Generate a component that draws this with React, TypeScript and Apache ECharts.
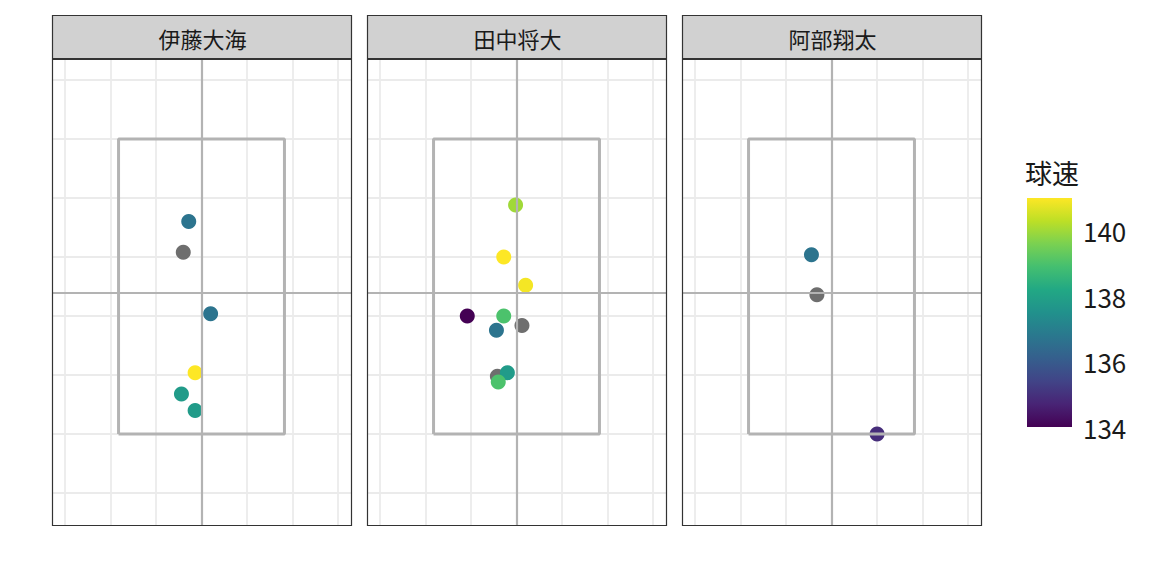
import React, { useEffect, useRef } from 'react';
import * as echarts from 'echarts';

const pitchers = ['伊藤大海', '田中将大', '阿部翔太'];

// plate location (horizontal, vertical) and pitch speed (null = missing)
const itoX = [-0.14, -0.20, 0.10, -0.07, -0.22, -0.07];
const itoZ = [3.30, 3.04, 2.52, 2.02, 1.84, 1.70];
const itoSpeed = [136.7, null, 136.7, 141.0, 137.8, 137.8];

const tanakaX = [-0.21, 0.06, -0.01, -0.14, 0.10, -0.54, -0.14, -0.22, -0.10, -0.20];
const tanakaZ = [1.99, 2.42, 3.44, 3.00, 2.76, 2.50, 2.50, 2.38, 2.02, 1.94];
const tanakaSpeed = [null, null, 140.0, 141.0, 140.9, 134.0, 139.0, 136.7, 137.8, 139.0];

const abeX = [-0.22, -0.16, 0.50];
const abeZ = [3.02, 2.68, 1.50];
const abeSpeed = [136.7, null, 134.9];

const panelX = [itoX, tanakaX, abeX];
const panelZ = [itoZ, tanakaZ, abeZ];
const panelSpeed = [itoSpeed, tanakaSpeed, abeSpeed];

// strike zone and center lines
const zoneLeft = -0.91;
const zoneRight = 0.91;
const zoneBottom = 1.5;
const zoneTop = 4.0;
const centerX = 0;
const centerZ = 2.70;

// grid breaks
const xBreaks = [-1.5, -1.0, -0.5, 0, 0.5, 1.0, 1.5];
const zBreaks = [1.0, 1.5, 2.0, 2.5, 3.0, 3.5, 4.0, 4.5];
const xLimits = [-1.64, 1.64];
const zLimits = [0.729, 4.678];

// color scale
const speedMin = 134;
const speedMax = 141;
const speedTicks = [134, 136, 138, 140];
const viridis = ['#440154', '#482475', '#414487', '#355f8d', '#2a788e', '#21918c', '#22a884', '#44bf70', '#7ad151', '#bddf26', '#fde725'];

const FONT = 'Noto Sans CJK JP';
const panelLefts = [52, 367, 682];
const panelW = 299;
const stripTop = 15;
const stripH = 43;
const panelTop = 59;
const panelH = 466;

export default function App() {
  const ref = useRef<HTMLDivElement>(null);
  useEffect(() => {
    if (!ref.current) return;
    const chart = echarts.init(ref.current, undefined, { renderer: 'svg' });

    const grids: any[] = [];
    const xAxes: any[] = [];
    const yAxes: any[] = [];
    const series: any[] = [];
    const graphics: any[] = [];
    const coloredIdx: number[] = [];

    pitchers.forEach((name, i) => {
      grids.push({ left: panelLefts[i], top: panelTop, width: panelW, height: panelH });
      xAxes.push({ gridIndex: i, type: 'value', min: xLimits[0], max: xLimits[1], show: false });
      yAxes.push({ gridIndex: i, type: 'value', min: zLimits[0], max: zLimits[1], show: false });

      // grid lines
      series.push({
        type: 'line', xAxisIndex: i, yAxisIndex: i, data: [], z: 1, silent: true,
        markLine: {
          z: 1, silent: true, symbol: ['none', 'none'], animation: false,
          label: { show: false },
          lineStyle: { color: '#ebebeb', width: 1.8, type: 'solid' },
          emphasis: { disabled: true },
          data: [
            ...xBreaks.map((v) => ({ xAxis: v })),
            ...zBreaks.map((v) => ({ yAxis: v })),
          ],
        },
      });

      const xs = panelX[i];
      const zs = panelZ[i];
      const sp = panelSpeed[i];
      const naData: number[][] = [];
      const colData: number[][] = [];
      xs.forEach((x, k) => {
        if (sp[k] == null) naData.push([x, zs[k]]);
        else colData.push([x, zs[k], sp[k] as number]);
      });
      series.push({
        type: 'scatter', xAxisIndex: i, yAxisIndex: i, data: naData, symbolSize: 15, z: 2,
        itemStyle: { color: '#6e6e6e', opacity: 1 }, silent: true,
      });
      coloredIdx.push(series.length);
      series.push({
        type: 'scatter', xAxisIndex: i, yAxisIndex: i, data: colData, symbolSize: 15, z: 3,
        itemStyle: { opacity: 1 }, silent: true,
      });

      // strike zone + center lines
      series.push({
        type: 'line', xAxisIndex: i, yAxisIndex: i, z: 6, silent: true, symbol: 'none',
        lineStyle: { color: '#b3b3b3', width: 3 },
        data: [
          [zoneLeft, zoneBottom], [zoneRight, zoneBottom], [zoneRight, zoneTop],
          [zoneLeft, zoneTop], [zoneLeft, zoneBottom],
        ],
        markLine: {
          z: 6, silent: true, symbol: ['none', 'none'], animation: false,
          label: { show: false },
          lineStyle: { color: '#b3b3b3', width: 2.2, type: 'solid' },
          emphasis: { disabled: true },
          data: [{ xAxis: centerX }, { yAxis: centerZ }],
        },
      });

      // panel border
      graphics.push({
        type: 'rect', shape: { x: panelLefts[i] + 0.5, y: panelTop + 0.5, width: panelW, height: panelH },
        style: { fill: 'none', stroke: '#333333', lineWidth: 1.2 }, z: 10,
      });
      // strip
      graphics.push({
        type: 'rect', shape: { x: panelLefts[i] + 0.5, y: stripTop + 0.5, width: panelW, height: stripH },
        style: { fill: '#d1d1d1', stroke: '#333333', lineWidth: 1.2 }, z: 10,
      });
      graphics.push({
        type: 'line', shape: { x1: panelLefts[i] + 0.5, y1: stripTop + stripH + 1, x2: panelLefts[i] + panelW + 0.5, y2: stripTop + stripH + 1 },
        style: { stroke: '#333333', lineWidth: 2 }, z: 11,
      });
      graphics.push({
        type: 'text', x: panelLefts[i] + panelW / 2 + 1, y: stripTop + stripH / 2 + 1,
        style: { text: name, fontFamily: FONT, fontSize: 22, fill: '#1a1a1a', align: 'center', verticalAlign: 'middle' },
        z: 12,
      });
    });

    // legend color bar
    grids.push({ left: 1027, top: 198, width: 45, height: 229 });
    xAxes.push({ gridIndex: 3, type: 'value', min: 0, max: 1, show: false });
    yAxes.push({
      gridIndex: 3, type: 'value', min: speedMin, max: speedMax, position: 'right',
      axisLine: { show: false }, splitLine: { show: false },
      axisTick: { show: true, inside: true, length: 9, customValues: speedTicks, lineStyle: { color: '#ffffff', width: 1 } },
      axisLabel: { show: true, customValues: speedTicks, fontFamily: FONT, fontSize: 26, color: '#1a1a1a', margin: 11 },
    });
    yAxes.push({
      gridIndex: 3, type: 'value', min: speedMin, max: speedMax, position: 'left',
      axisLine: { show: false }, splitLine: { show: false },
      axisTick: { show: true, inside: true, length: 9, customValues: speedTicks, lineStyle: { color: '#ffffff', width: 1 } },
      axisLabel: { show: false },
    });
    series.push({
      type: 'custom', xAxisIndex: 3, yAxisIndex: 3, z: 1, silent: true,
      data: [[0, speedMin, 1, speedMax]],
      encode: { x: [0, 2], y: [1, 3] },
      renderItem: (params: any, api: any) => {
        const p1 = api.coord([api.value(0), api.value(3)]);
        const p2 = api.coord([api.value(2), api.value(1)]);
        return {
          type: 'rect',
          shape: { x: p1[0], y: p1[1], width: p2[0] - p1[0], height: p2[1] - p1[1] },
          style: {
            fill: new echarts.graphic.LinearGradient(0, 1, 0, 0,
              viridis.map((c, k) => ({ offset: k / (viridis.length - 1), color: c }))),
          },
        };
      },
    });
    graphics.push({
      type: 'text', x: 1025, y: 172,
      style: { text: '球速', fontFamily: FONT, fontSize: 27, fill: '#1a1a1a', align: 'left', verticalAlign: 'middle' },
    });

    chart.setOption({
      animation: false,
      backgroundColor: '#ffffff',
      textStyle: { fontFamily: FONT },
      grid: grids,
      xAxis: xAxes,
      yAxis: yAxes,
      visualMap: {
        type: 'continuous', show: false, min: speedMin, max: speedMax, dimension: 2,
        seriesIndex: coloredIdx, inRange: { color: viridis },
      },
      series,
      graphic: graphics,
    });
    return () => chart.dispose();
  }, []);
  return <div ref={ref} style={{ position: 'absolute', left: 0, top: 0, width: 1152, height: 576 }} />;
}
